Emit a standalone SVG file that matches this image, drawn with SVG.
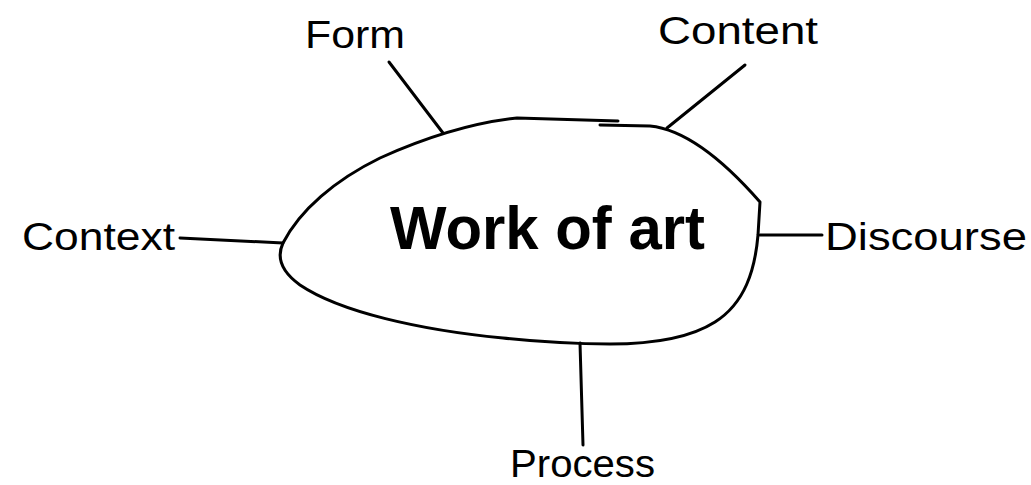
<svg xmlns="http://www.w3.org/2000/svg" width="1031" height="485" viewBox="0 0 1031 485">
<style>
.lbl{font-family:"Liberation Sans",Arial,sans-serif;font-size:38px;fill:#000}
.title{font-family:"Liberation Sans",Arial,sans-serif;font-size:62px;font-weight:bold;fill:#000}
.ln{stroke:#000;stroke-width:3;fill:none;stroke-linecap:round;stroke-linejoin:round}
</style>
<rect width="1031" height="485" fill="#fff"/>
<g id="connectors">
<line class="ln" x1="389" y1="62" x2="443" y2="133"/>
<line class="ln" x1="745" y1="65" x2="667" y2="128"/>
<line class="ln" x1="180" y1="238" x2="283" y2="243"/>
<line class="ln" x1="760" y1="235" x2="822" y2="235"/>
<line class="ln" x1="580" y1="343" x2="583" y2="445"/>
</g>
<g id="work-of-art">
<path class="ln" d="M618,121 L517,118 C470,123 420,140 380,158 C335,180 300,210 283,243 C276,258 282,272 300,285 C340,312 420,330 503,338 C540,342 580,344 610,344 C650,344 690,338 715,322 C745,303 755,270 758,235 L760,202 C732,170 690,130 650,126 L600,125"/>
<text class="title" x="390" y="249" textLength="315" lengthAdjust="spacingAndGlyphs">Work of art</text>
</g>
<g id="form"><text class="lbl" x="305" y="48" textLength="100" lengthAdjust="spacingAndGlyphs">Form</text></g>
<g id="content"><text class="lbl" x="658" y="44" textLength="160" lengthAdjust="spacingAndGlyphs">Content</text></g>
<g id="context"><text class="lbl" x="22" y="250" textLength="153" lengthAdjust="spacingAndGlyphs">Context</text></g>
<g id="discourse"><text class="lbl" x="825" y="250" textLength="202" lengthAdjust="spacingAndGlyphs">Discourse</text></g>
<g id="process"><text class="lbl" x="510" y="477" textLength="145" lengthAdjust="spacingAndGlyphs">Process</text></g>
</svg>
